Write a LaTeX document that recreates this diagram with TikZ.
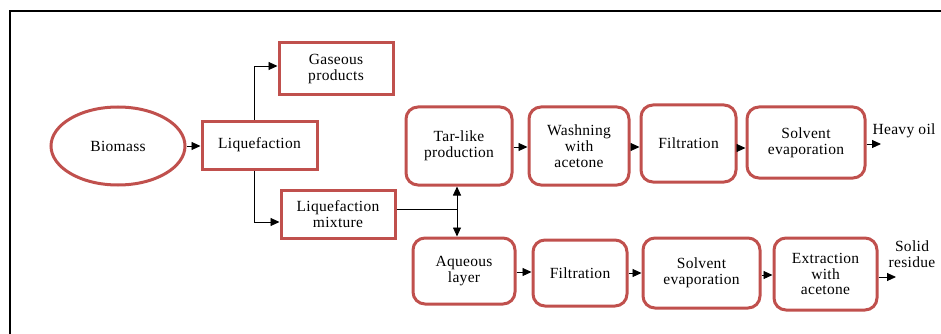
\documentclass[tikz,border=0pt]{standalone}
\usepackage{fontspec}
\setmainfont{Liberation Serif}[LetterSpace=2]
\usetikzlibrary{shapes.geometric,arrows.meta}
\definecolor{boxred}{HTML}{C0504D}
\tikzset{
  txt/.style={font=\fontsize{15.5}{15.7}\selectfont, align=center, inner sep=0pt},
  sqbox/.style={txt, draw=boxred, line width=3pt, rectangle},
  rbox/.style={sqbox, rounded corners=12pt},
  ellbox/.style={txt, draw=boxred, line width=3pt, ellipse},
  arr/.style={line width=0.9pt, -{Triangle[length=9pt,width=8pt]}},
  conn/.style={line width=0.9pt},
}
\begin{document}
\begin{tikzpicture}[x=1pt,y=-1pt]
\useasboundingbox (0,0) rectangle (941,334);
\draw[line width=2pt] (10,334) -- (10,11) -- (941,11);
% nodes
\node[ellbox, minimum width=134pt, minimum height=78pt] (bio) at (118,146) {Biomass};
\node[sqbox, minimum width=115pt, minimum height=48pt] (liq) at (259.5,145) {Liquefaction};
\node[sqbox, minimum width=114pt, minimum height=52pt] (gas) at (336,69) {Gaseous\\products};
\node[sqbox, minimum width=114pt, minimum height=48pt] (mix) at (338,214) {Liquefaction\\mixture};
\node[rbox, minimum width=106pt, minimum height=78pt] (tar) at (459,146) {Tar-like\\production};
\node[rbox, minimum width=100pt, minimum height=78pt] (wash) at (579,146) {Washning\\with\\acetone};
\node[rbox, minimum width=95pt, minimum height=77pt] (filtA) at (688.5,143.5) {Filtration};
\node[rbox, minimum width=118pt, minimum height=71pt] (solvA) at (806,142.5) {Solvent\\evaporation};
\node[rbox, minimum width=102pt, minimum height=66pt] (aq) at (464,271) {Aqueous\\layer};
\node[rbox, minimum width=94pt, minimum height=66pt] (filtB) at (580,273) {Filtration};
\node[rbox, minimum width=117pt, minimum height=70pt] (solvB) at (701.5,273) {Solvent\\evaporation};
\node[rbox, minimum width=103pt, minimum height=72pt] (extr) at (825.5,274) {Extraction\\with\\acetone};
\node[txt] (heavy) at (904,131) {Heavy oil};
\node[txt] (solid) at (912,254) {Solid\\residue};
% helper coordinates
\coordinate (lx) at (254,0);
\coordinate (jn) at (457,209);
\coordinate (rA) at (0,147);
\coordinate (rB) at (0,148);
\coordinate (rC) at (0,273);
\coordinate (rD) at (0,275);
\coordinate (rE) at (0,272);
\coordinate (hoEnd) at (881,144);
\coordinate (srEnd) at (896,277);
% connectors
\draw[arr] (bio.east) -- (liq.west |- bio.east);
\draw[arr] (liq.north -| lx) |- ([yshift=3pt]gas.west);
\draw[arr] (liq.south -| lx) |- ([yshift=-8pt]mix.west);
\draw[conn] ([yshift=5pt]mix.east) -- (jn);
\draw[arr] (jn) -- (tar.south -| jn);
\draw[arr] (jn) -- (aq.north -| jn);
\draw[arr] (tar.east |- rA) -- (wash.west |- rA);
\draw[arr] (wash.east |- rA) -- (filtA.west |- rA);
\draw[arr] (filtA.east |- rB) -- (solvA.west |- rB);
\draw[arr] (solvA.east |- hoEnd) -- (hoEnd);
\draw[arr] (aq.east |- rE) -- (filtB.west |- rE);
\draw[arr] (filtB.east |- rC) -- (solvB.west |- rC);
\draw[arr] (solvB.east |- rD) -- (extr.west |- rD);
\draw[arr] (extr.east |- srEnd) -- (srEnd);
\end{tikzpicture}
\end{document}
